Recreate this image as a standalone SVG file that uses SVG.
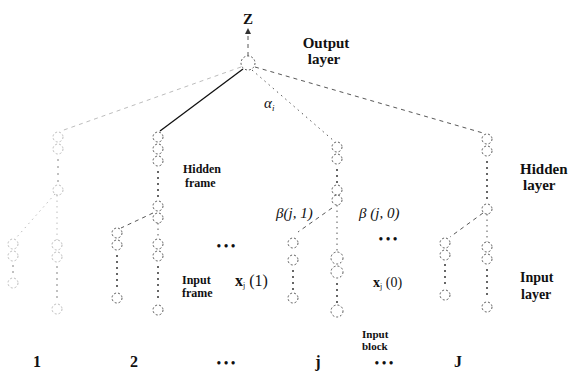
<svg xmlns="http://www.w3.org/2000/svg" width="572" height="372" viewBox="0 0 572 372">
  <defs>
    <marker id="arrow" markerWidth="6" markerHeight="6" refX="3" refY="3" orient="auto" markerUnits="userSpaceOnUse">
      <path d="M0,0 L6,3 L0,6 Z" fill="#333"/>
    </marker>
    <style>
      .node { fill: none; stroke: #333; stroke-width: 0.8; stroke-dasharray: 2 2; }
      .dot { fill: #333; }
      .faint { opacity: 0.4; }
      .lbl { font-weight: bold; fill: #111; }
      .math { font-style: italic; fill: #111; }
      .solid { stroke: #111; stroke-width: 1.3; fill: none; }
      .dash { stroke: #444; stroke-width: 0.9; fill: none; stroke-dasharray: 4 4; }
      .dotted { stroke: #444; stroke-width: 0.9; fill: none; stroke-dasharray: 1.5 4; }
    </style>
  </defs>
  <rect width="572" height="372" fill="#fff"/>

  <!-- connectors -->
  <g id="connectors">
    <line class="dash" x1="248" y1="56" x2="248" y2="31" marker-end="url(#arrow)"/>
    <line class="dash faint" x1="241" y1="67" x2="61" y2="131"/>
    <line class="solid" x1="243" y1="69" x2="160" y2="131"/>
    <line class="dotted" x1="252" y1="70" x2="334" y2="141"/>
    <line class="dash" x1="255" y1="67" x2="483" y2="133"/>
    <!-- hidden frame to input frames -->
    <line class="dotted faint" x1="55" y1="194" x2="16" y2="238"/>
    <line class="dotted faint" x1="57" y1="195" x2="57" y2="240"/>
    <line class="dash" x1="153" y1="213" x2="121" y2="228"/>
    <line class="dotted" x1="158" y1="223" x2="158" y2="239"/>
    <line class="dash" x1="332" y1="208" x2="298" y2="232"/>
    <line class="dotted" x1="337" y1="205" x2="337" y2="252"/>
    <line class="dash" x1="483" y1="213" x2="450" y2="237"/>
    <line class="dotted" x1="487" y1="214" x2="487" y2="242"/>
  </g>

  <!-- output node -->
  <g id="output">
    <circle class="node" cx="248" cy="63" r="7"/>
  </g>

  <!-- hidden frames -->
  <g id="hidden-1" class="faint">
    <circle class="node" cx="58" cy="137" r="5"/>
    <circle class="node" cx="58" cy="149" r="5"/>
    <circle class="dot" cx="58" cy="160" r="1"/>
    <circle class="dot" cx="58" cy="167" r="1"/>
    <circle class="dot" cx="58" cy="174" r="1"/>
    <circle class="dot" cx="58" cy="181" r="1"/>
    <circle class="node" cx="58" cy="190" r="5"/>
  </g>
  <g id="hidden-2">
    <circle class="node" cx="158" cy="137" r="5"/>
    <circle class="node" cx="158" cy="149" r="5"/>
    <circle class="node" cx="158" cy="161" r="5"/>
    <circle class="dot" cx="158" cy="172" r="1"/>
    <circle class="dot" cx="158" cy="178" r="1"/>
    <circle class="dot" cx="158" cy="184" r="1"/>
    <circle class="dot" cx="158" cy="190" r="1"/>
    <circle class="dot" cx="158" cy="196" r="1"/>
    <circle class="node" cx="158" cy="206" r="5"/>
    <circle class="node" cx="158" cy="218" r="5"/>
  </g>
  <g id="hidden-j">
    <circle class="node" cx="337" cy="147" r="5"/>
    <circle class="node" cx="337" cy="159" r="5"/>
    <circle class="dot" cx="337" cy="170" r="1"/>
    <circle class="dot" cx="337" cy="176" r="1"/>
    <circle class="dot" cx="337" cy="182" r="1"/>
    <circle class="node" cx="337" cy="190" r="5"/>
    <circle class="node" cx="337" cy="200" r="5"/>
  </g>
  <g id="hidden-J">
    <circle class="node" cx="487" cy="139" r="5"/>
    <circle class="node" cx="487" cy="151" r="5"/>
    <circle class="dot" cx="487" cy="162" r="1"/>
    <circle class="dot" cx="487" cy="168" r="1"/>
    <circle class="dot" cx="487" cy="174" r="1"/>
    <circle class="dot" cx="487" cy="180" r="1"/>
    <circle class="dot" cx="487" cy="186" r="1"/>
    <circle class="dot" cx="487" cy="192" r="1"/>
    <circle class="dot" cx="487" cy="198" r="1"/>
    <circle class="node" cx="487" cy="209" r="5"/>
  </g>

  <!-- input frames -->
  <g id="input-1-1" class="faint">
    <circle class="node" cx="13" cy="244" r="5"/>
    <circle class="node" cx="13" cy="256" r="5"/>
    <circle class="dot" cx="13" cy="266" r="1"/>
    <circle class="dot" cx="13" cy="272" r="1"/>
    <circle class="node" cx="13" cy="283" r="5"/>
  </g>
  <g id="input-1-0" class="faint">
    <circle class="node" cx="57" cy="245" r="5"/>
    <circle class="node" cx="57" cy="257" r="5"/>
    <circle class="dot" cx="57" cy="267" r="1"/>
    <circle class="dot" cx="57" cy="273" r="1"/>
    <circle class="dot" cx="57" cy="279" r="1"/>
    <circle class="dot" cx="57" cy="285" r="1"/>
    <circle class="dot" cx="57" cy="291" r="1"/>
    <circle class="dot" cx="57" cy="297" r="1"/>
    <circle class="node" cx="57" cy="309" r="5"/>
  </g>
  <g id="input-2-1">
    <circle class="node" cx="117" cy="233" r="5"/>
    <circle class="node" cx="117" cy="245" r="5"/>
    <circle class="dot" cx="117" cy="256" r="1"/>
    <circle class="dot" cx="117" cy="262" r="1"/>
    <circle class="dot" cx="117" cy="268" r="1"/>
    <circle class="dot" cx="117" cy="274" r="1"/>
    <circle class="dot" cx="117" cy="280" r="1"/>
    <circle class="dot" cx="117" cy="286" r="1"/>
    <circle class="node" cx="117" cy="298" r="5"/>
  </g>
  <g id="input-2-0">
    <circle class="node" cx="158" cy="244" r="5"/>
    <circle class="node" cx="158" cy="256" r="5"/>
    <circle class="dot" cx="158" cy="267" r="1"/>
    <circle class="dot" cx="158" cy="273" r="1"/>
    <circle class="dot" cx="158" cy="279" r="1"/>
    <circle class="dot" cx="158" cy="285" r="1"/>
    <circle class="dot" cx="158" cy="291" r="1"/>
    <circle class="dot" cx="158" cy="297" r="1"/>
    <circle class="node" cx="158" cy="310" r="5"/>
  </g>
  <g id="input-j-1">
    <circle class="node" cx="293" cy="243" r="5"/>
    <circle class="node" cx="293" cy="260" r="5"/>
    <circle class="dot" cx="293" cy="271" r="1"/>
    <circle class="dot" cx="293" cy="277" r="1"/>
    <circle class="dot" cx="293" cy="283" r="1"/>
    <circle class="dot" cx="293" cy="289" r="1"/>
    <circle class="node" cx="293" cy="298" r="5"/>
  </g>
  <g id="input-j-0">
    <circle class="node" cx="337" cy="258" r="6"/>
    <circle class="node" cx="337" cy="272" r="6"/>
    <circle class="dot" cx="337" cy="284" r="1"/>
    <circle class="dot" cx="337" cy="290" r="1"/>
    <circle class="dot" cx="337" cy="296" r="1"/>
    <circle class="dot" cx="337" cy="302" r="1"/>
    <circle class="node" cx="337" cy="311" r="6"/>
  </g>
  <g id="input-J-1">
    <circle class="node" cx="445" cy="243" r="5"/>
    <circle class="node" cx="445" cy="255" r="5"/>
    <circle class="dot" cx="445" cy="265" r="1"/>
    <circle class="dot" cx="445" cy="271" r="1"/>
    <circle class="dot" cx="445" cy="277" r="1"/>
    <circle class="dot" cx="445" cy="283" r="1"/>
    <circle class="node" cx="445" cy="295" r="5"/>
  </g>
  <g id="input-J-0">
    <circle class="node" cx="487" cy="247" r="5"/>
    <circle class="node" cx="487" cy="259" r="5"/>
    <circle class="dot" cx="487" cy="270" r="1"/>
    <circle class="dot" cx="487" cy="276" r="1"/>
    <circle class="dot" cx="487" cy="282" r="1"/>
    <circle class="dot" cx="487" cy="288" r="1"/>
    <circle class="dot" cx="487" cy="294" r="1"/>
    <circle class="node" cx="487" cy="307" r="5"/>
  </g>

  <!-- labels -->
  <g id="labels" font-family="Liberation Serif, Times New Roman, serif">
    <text class="lbl" x="248" y="24" font-size="15" text-anchor="middle">Z</text>
    <text class="lbl" x="326" y="48" font-size="15" text-anchor="middle">Output</text>
    <text class="lbl" x="324" y="64" font-size="15" text-anchor="middle">layer</text>
    <text class="math" x="264" y="108" font-size="15">α<tspan font-size="9" dy="3">i</tspan></text>
    <text class="lbl" x="183" y="173" font-size="12">Hidden</text>
    <text class="lbl" x="185" y="187" font-size="12">frame</text>
    <text class="lbl" x="520" y="174" font-size="15">Hidden</text>
    <text class="lbl" x="523" y="190" font-size="15">layer</text>
    <text class="math" x="276" y="218" font-size="15">β(j, 1)</text>
    <text class="math" x="359" y="218" font-size="15">β (j, 0)</text>
    <text class="lbl" x="226" y="250" font-size="12" text-anchor="middle">•  •  •</text>
    <text class="lbl" x="388" y="243" font-size="12" text-anchor="middle">•  •  •</text>
    <text class="lbl" x="182" y="284" font-size="12">Input</text>
    <text class="lbl" x="182" y="297" font-size="12">frame</text>
    <text x="235" y="286" font-size="16" fill="#111"><tspan font-weight="bold">x</tspan><tspan font-size="8" dy="2">j</tspan><tspan dy="-2"> (1)</tspan></text>
    <text x="373" y="287" font-size="14" fill="#111"><tspan font-weight="bold">x</tspan><tspan font-size="8" dy="2">j</tspan><tspan dy="-2"> (0)</tspan></text>
    <text class="lbl" x="520" y="282" font-size="14">Input</text>
    <text class="lbl" x="521" y="299" font-size="14">layer</text>
    <text class="lbl" x="362" y="338" font-size="11">Input</text>
    <text class="lbl" x="362" y="350" font-size="11">block</text>
    <text class="lbl" x="37" y="367" font-size="16" text-anchor="middle">1</text>
    <text class="lbl" x="134" y="367" font-size="16" text-anchor="middle">2</text>
    <text class="lbl" x="226" y="367" font-size="12" text-anchor="middle">•  •  •</text>
    <text class="lbl" x="318" y="367" font-size="16" text-anchor="middle">j</text>
    <text class="lbl" x="384" y="367" font-size="12" text-anchor="middle">•  •  •</text>
    <text class="lbl" x="458" y="367" font-size="16" text-anchor="middle">J</text>
  </g>
</svg>
